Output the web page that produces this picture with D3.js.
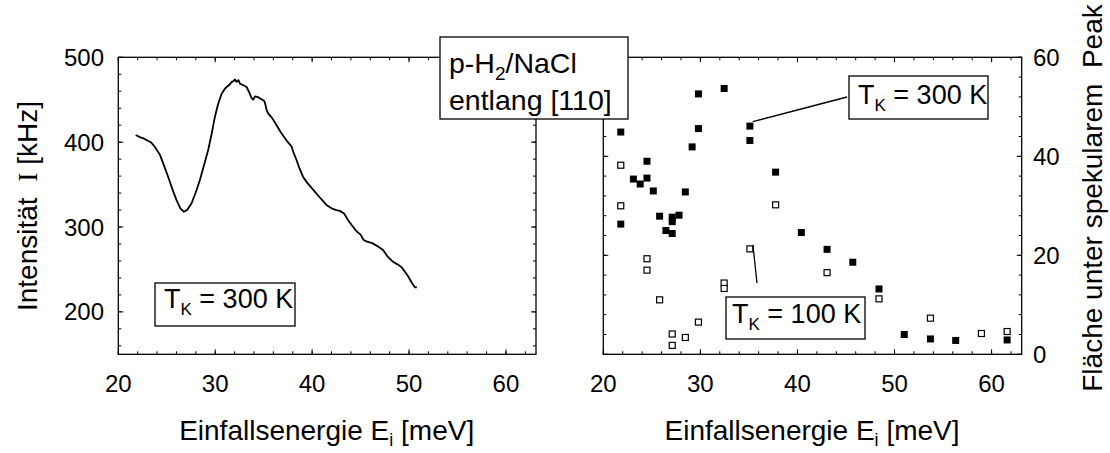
<!DOCTYPE html>
<html><head><meta charset="utf-8">
<script src="https://cdn.jsdelivr.net/npm/d3@7"></script>
<style>
body{margin:0;background:#fff}
svg{display:block}
text{font-family:"Liberation Sans",Arial,Helvetica,sans-serif;fill:#000}
</style>
</head><body>
<svg id="c" width="1110" height="453"></svg>
<script>
// ---- data ----
const curveE = [21.8,22.2,22.6,23.0,23.4,23.8,24.3,24.7,25.15,25.6,26.0,26.4,26.77,27.1,27.56,28.0,28.42,28.85,29.28,29.6,29.97,30.3,30.66,31.0,31.18,31.5,31.7,31.9,32.03,32.2,32.4,32.55,32.9,33.24,33.5,33.75,33.92,34.1,34.43,34.7,35.0,35.12,35.3,35.46,35.9,36.33,36.8,37.18,37.5,37.87,38.1,38.39,38.7,39.07,39.5,40.1,40.7,41.48,42.0,42.5,42.86,43.3,43.71,44.1,44.58,45.0,45.3,45.6,46.2,46.8,47.32,47.8,48.35,48.8,49.2,49.6,49.9,50.3,50.6,50.8];
const curveI = [408.5,406,404.5,402,399.5,394,385,373,359,344,332,322,318,320,328,341,355.5,373,391,408,430,445,457,463,465,468,471,472,474,471,473,469,467,465,459,452,450,454,453,451,449,447,438,434,428,420,411,405,400,395,387,379,369,359,352,344,336,326,322,320,319,316,308,302,295,291,285,283,281,277,273,265,259,256,253,247,242,234,229,229];

const hotE = [21.8,21.8,23.1,23.8,24.5,24.5,25.15,25.8,26.45,27.1,27.1,27.1,27.8,28.45,29.15,29.8,29.8,32.45,35.1,35.1,37.75,40.4,43.05,45.7,48.4,51.0,53.7,56.3,61.6];
const hotV = [44.9,26.3,35.4,34.4,39.0,35.6,33.0,27.9,25.0,27.7,26.8,24.4,28.1,32.8,41.9,52.6,45.6,53.7,46.1,43.2,36.8,24.6,21.2,18.6,13.2,4.0,3.1,2.8,2.9];
const coldE = [21.8,21.8,24.5,24.5,25.8,27.1,27.1,28.45,29.8,32.45,32.45,35.1,37.75,43.05,48.4,53.7,58.95,61.6];
const coldV = [38.2,30.0,19.3,17.0,11.0,4.1,1.8,3.4,6.5,14.4,13.3,21.3,30.2,16.5,11.2,7.3,4.2,4.6];

const xMajor = [20,30,40,50,60];
const xMinor = d3.range(20,63.01,2);
const leftYMajor = [200,300,400,500];
const leftYMinor = d3.range(160,500.01,20);
const rightYMajor = [0,20,40,60];
const rightYMinor = d3.range(0,60.01,4);

// ---- layout ----
const svg = d3.select("#c");
const yTop = 57.3, yBot = 354.3;
const L = {x0:118.3, x1:536};
const R = {x0:603.3, x1:1021.7};

const xL = d3.scaleLinear().domain([20,63.1]).range([L.x0,L.x1]);
const yL = d3.scaleLinear().domain([150,500]).range([yBot,yTop]);
const xR = d3.scaleLinear().domain([20,63.1]).range([R.x0,R.x1]);
const yR = d3.scaleLinear().domain([0,60]).range([yBot,yTop]);

function ticks(x, y, xMaj, xMin, yMaj, yMin){
  const g = svg.append("g").attr("stroke","#000").attr("stroke-width",1);
  const [X0,X1] = x.range(); const [Y1,Y0] = y.range();
  const addX = (vals,len)=>{
    vals.forEach(v=>{
      const px = x(v);
      g.append("line").attr("x1",px).attr("x2",px).attr("y1",Y1).attr("y2",Y1-len);
      g.append("line").attr("x1",px).attr("x2",px).attr("y1",Y0).attr("y2",Y0+len);
    });
  };
  const addY = (vals,len)=>{
    vals.forEach(v=>{
      const py = y(v);
      g.append("line").attr("y1",py).attr("y2",py).attr("x1",X0).attr("x2",X0+len);
      g.append("line").attr("y1",py).attr("y2",py).attr("x1",X1).attr("x2",X1-len);
    });
  };
  addX(xMin,3); addX(xMaj,5); addY(yMin,3); addY(yMaj,5);
  svg.append("rect").attr("x",X0).attr("y",Y0).attr("width",X1-X0).attr("height",Y1-Y0)
    .attr("fill","none").attr("stroke","#000").attr("stroke-width",1.3);
}
ticks(xL,yL,xMajor,xMinor,leftYMajor,leftYMinor);
ticks(xR,yR,xMajor,xMinor,rightYMajor,rightYMinor);

// tick labels
const fs = 24;
[xL,xR].forEach(x=>{
  svg.append("g").selectAll("text").data(xMajor).join("text")
    .attr("x",d=>x(d)).attr("y",392).attr("text-anchor","middle").attr("font-size",fs).text(d=>d);
});
svg.append("g").selectAll("text").data(leftYMajor).join("text")
  .attr("x",104).attr("y",d=>yL(d)+8.5).attr("text-anchor","end").attr("font-size",fs).text(d=>d);
svg.append("g").selectAll("text").data(rightYMajor).join("text")
  .attr("x",1033).attr("y",d=>yR(d)+8.5).attr("text-anchor","start").attr("font-size",fs).text(d=>d);

// axis titles
const tfs = 28;
[[xL,41.5],[xR,41.5]].forEach(([x,c])=>{
  const t = svg.append("text").attr("x",x(c)).attr("y",440).attr("text-anchor","middle").attr("font-size",tfs);
  t.append("tspan").text("Einfallsenergie E");
  t.append("tspan").attr("font-size",18).attr("dy",6).text("i");
  t.append("tspan").attr("dy",-6).text(" [meV]");
});
{
  const t = svg.append("text").attr("transform","translate(37,206) rotate(-90)")
    .attr("text-anchor","middle").attr("font-size",tfs);
  t.append("tspan").text("Intensität\u00a0 ");
  t.append("tspan").attr("font-family","'Liberation Serif',serif").text("I");
  t.append("tspan").text(" [kHz]");
}
svg.append("text").attr("transform","translate(1102,198) rotate(-90)")
  .attr("text-anchor","middle").attr("font-size",tfs).text("Fläche unter spekularem\u00a0 Peak");

// curve
const line = d3.line().x(i=>xL(curveE[i])).y(i=>yL(curveI[i]));
svg.append("path").attr("d",line(d3.range(curveE.length)))
  .attr("fill","none").attr("stroke","#000").attr("stroke-width",1.8).attr("stroke-linejoin","round");

// points
const fsz = 7, osz = 6;
svg.append("g").selectAll("rect").data(d3.range(hotE.length)).join("rect")
  .attr("x",i=>xR(hotE[i])-fsz/2).attr("y",i=>yR(hotV[i])-fsz/2)
  .attr("width",fsz).attr("height",fsz).attr("fill","#000");
svg.append("g").selectAll("rect").data(d3.range(coldE.length)).join("rect")
  .attr("x",i=>xR(coldE[i])-osz/2).attr("y",i=>yR(coldV[i])-osz/2)
  .attr("width",osz).attr("height",osz).attr("fill","#fff").attr("stroke","#000").attr("stroke-width",1.2);

// annotations
function box(x,y,w,h){
  svg.append("rect").attr("x",x).attr("y",y).attr("width",w).attr("height",h)
    .attr("fill","#fff").attr("stroke","#000").attr("stroke-width",1.3);
}
function tk(x,y,label){
  const t = svg.append("text").attr("x",x).attr("y",y).attr("font-size",27);
  t.append("tspan").text("T");
  t.append("tspan").attr("font-size",17).attr("dy",7).text("K");
  t.append("tspan").attr("dy",-7).text(" = " + label);
}
// leader lines
svg.append("line").attr("x1",847).attr("y1",97).attr("x2",xR(35.4)).attr("y2",yR(47)).attr("stroke","#000").attr("stroke-width",1.3);
svg.append("line").attr("x1",757).attr("y1",283).attr("x2",xR(35.1)+3).attr("y2",yR(21.3)-4).attr("stroke","#000").attr("stroke-width",1.3);

box(155,283,140,43); tk(164,308,"300 K");
box(849,76,139,43); tk(858,104,"300 K");
box(726,297,139,42); tk(732,323,"100 K");

box(440,37,188,82);
{
  const t = svg.append("text").attr("x",449).attr("y",73).attr("font-size",28.5);
  t.append("tspan").text("p-H");
  t.append("tspan").attr("font-size",19).attr("dy",7).text("2");
  t.append("tspan").attr("dy",-7).text("/NaCl");
  svg.append("text").attr("x",449).attr("y",110).attr("font-size",28.5).text("entlang [110]");
}
</script>
</body></html>
